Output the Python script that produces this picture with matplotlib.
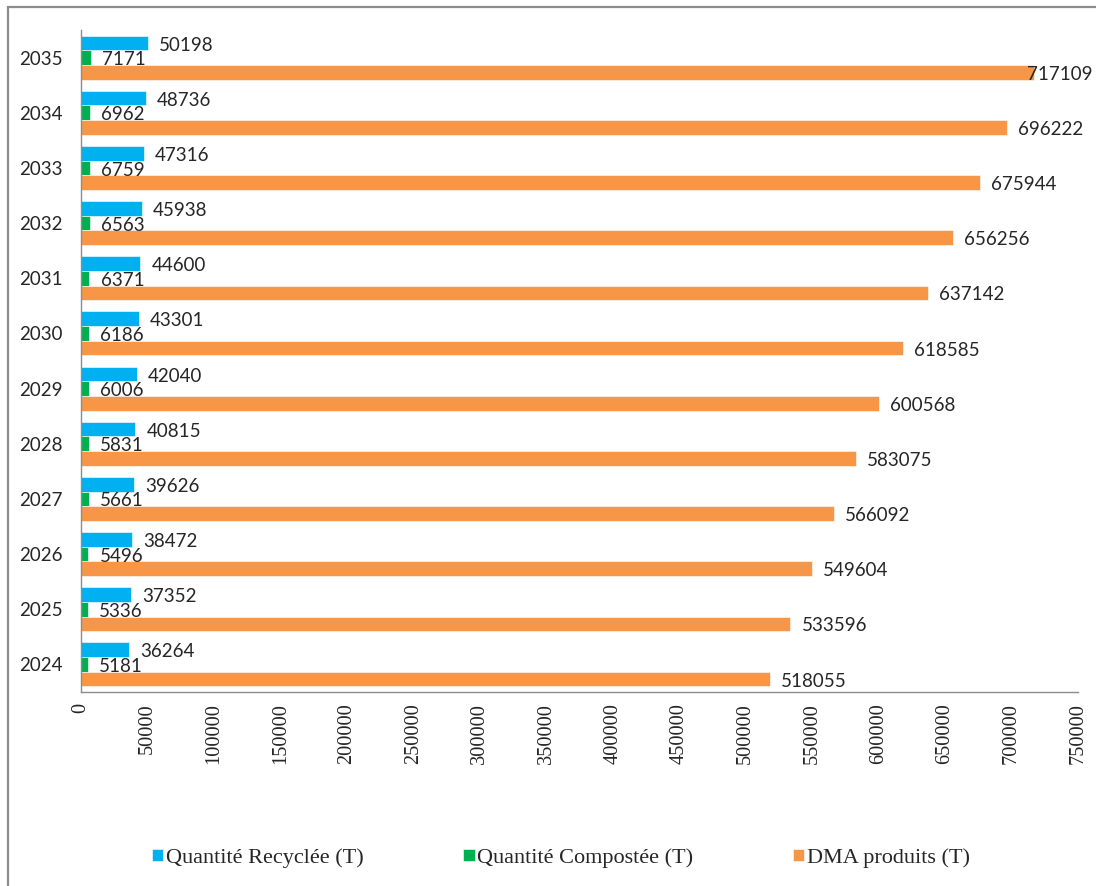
import matplotlib
matplotlib.use("Agg")
import matplotlib.pyplot as plt
from matplotlib.patches import Rectangle
import numpy as np

years = ["2024", "2025", "2026", "2027", "2028", "2029",
         "2030", "2031", "2032", "2033", "2034", "2035"]
recycled = [36264, 37352, 38472, 39626, 40815, 42040,
            43301, 44600, 45938, 47316, 48736, 50198]
composted = [5181, 5336, 5496, 5661, 5831, 6006,
             6186, 6371, 6563, 6759, 6962, 7171]
dma = [518055, 533596, 549604, 566092, 583075, 600568,
       618585, 637142, 656256, 675944, 696222, 717109]
series_names = ["Quantité Recyclée (T)", "Quantité Compostée (T)", "DMA produits (T)"]
series_colors = ["#00B0F0", "#00B050", "#F79646"]
x_ticks = list(range(0, 750001, 50000))

W, H = 1096, 886
fig = plt.figure(figsize=(W / 100, H / 100), dpi=100)

# outer chart frame (left and top edges visible)
fig.patches.append(Rectangle((8 / W, -0.01), 1.1, 1 - 7 / H + 0.01,
                             transform=fig.transFigure, fill=False,
                             edgecolor="#8c8c8c", linewidth=1.6, zorder=0))

ax = fig.add_axes([81 / W, 1 - 692 / H, (1078 - 81) / W, (692 - 30) / H])

y = np.arange(len(years))
h = 0.265
label_font = dict(family=["Lato", "DejaVu Sans"], size=13.5, color="#262626")
xmax = 750000

for vals, off, color, name in zip([recycled, composted, dma], [h, 0, -h],
                                  series_colors, series_names):
    ax.barh(y + off, vals, height=h, color=color, label=name,
            edgecolor="white", linewidth=0.4)
    for yy, v in zip(y + off, vals):
        # labels near the right edge are pulled back over the bar end
        dx = 8 if v < 0.95 * xmax else -5
        ax.annotate(f"{v}", xy=(v, yy), xytext=(dx, -1.5),
                    textcoords="offset points", ha="left", va="center",
                    **label_font)

ax.set_xlim(0, xmax)
ax.set_ylim(-0.5, len(years) - 0.5)
ax.set_yticks(y)
ax.set_yticklabels(years, **label_font)
ax.set_xticks(x_ticks)
ax.set_xticklabels([str(t) for t in x_ticks], rotation=90,
                   family="Liberation Serif", size=14.7, color="#262626")
ax.tick_params(axis="y", length=0, pad=13)
ax.tick_params(axis="x", length=0, pad=8)
for s in ["top", "right"]:
    ax.spines[s].set_visible(False)
for s in ["left", "bottom"]:
    ax.spines[s].set_color("#8c8c8c")
    ax.spines[s].set_linewidth(1.0)

handles, labels = ax.get_legend_handles_labels()
fig.legend(handles, labels, loc="center", ncol=3,
           bbox_to_anchor=(561 / W, 1 - 858 / H), frameon=False,
           prop=dict(family="Liberation Serif", size=16),
           handlelength=0.5, handleheight=0.5, handletextpad=0.12,
           columnspacing=4.5, labelcolor="#262626")

fig.savefig("out.png", dpi=100)
